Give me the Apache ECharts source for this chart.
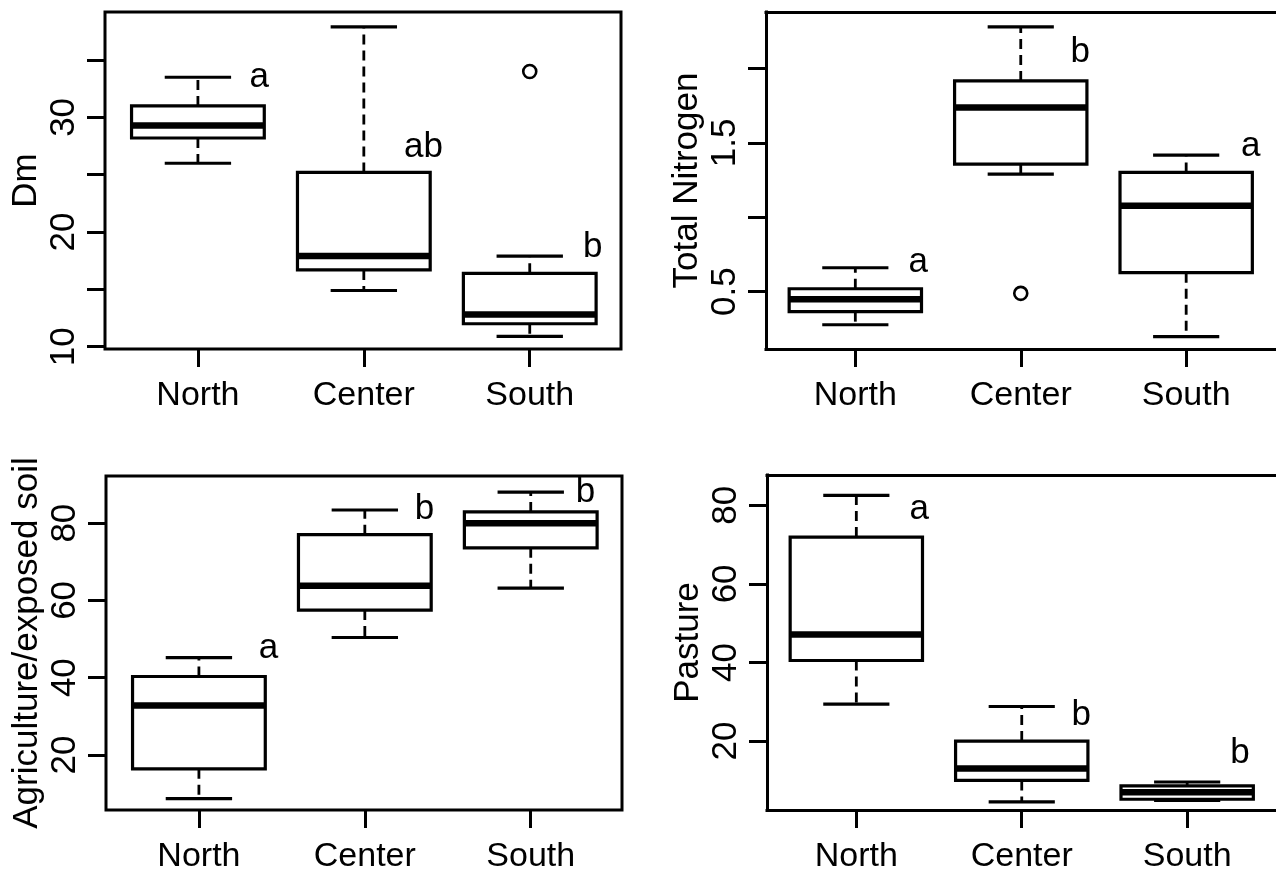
<!DOCTYPE html>
<html>
<head>
<meta charset="utf-8">
<script src="https://cdn.jsdelivr.net/npm/echarts@6/dist/echarts.min.js"></script>
<style>
html,body{margin:0;padding:0;background:#fff;overflow:hidden;}
#chart{width:1276px;height:874px;}
</style>
</head>
<body>
<div id="chart"></div>
<script>
// ---------- data ----------
const categories = ['North', 'Center', 'South'];

// [low whisker, Q1, median, Q3, high whisker] per region
const dmBoxes = [[26.0, 28.2, 29.3, 31.0, 33.5], [14.9, 16.7, 17.9, 25.2, 37.9], [10.9, 12.0, 12.8, 16.4, 17.9]];
const dmOutliers = [[3, 34.0]];
const dmLetters = ['a', 'ab', 'b'];
const dmLetterX = [1.37, 2.36, 3.38];
const dmLetterY = [33.5, 27.4, 18.7];
const dmTicks = [10, 15, 20, 25, 30, 35];
const dmTickLabels = [10, 20, 30];

const tnBoxes = [[0.278, 0.366, 0.449, 0.52, 0.661], [1.29, 1.358, 1.738, 1.917, 2.28], [0.198, 0.628, 1.078, 1.302, 1.418]];
const tnOutliers = [[2, 0.489]];
const tnLetters = ['a', 'b', 'a'];
const tnLetterX = [1.38, 2.36, 3.39];
const tnLetterY = [0.70, 2.11, 1.474];
const tnTicks = [0.5, 1.0, 1.5, 2.0];
const tnTickLabels = [0.5, 1.5];

const agBoxes = [[8.7, 16.4, 32.8, 40.3, 45.2], [50.4, 57.5, 63.8, 77.0, 83.4], [63.2, 73.6, 80.0, 82.9, 88.0]];
const agOutliers = [];
const agLetters = ['a', 'b', 'b'];
const agLetterX = [1.42, 2.36, 3.33];
const agLetterY = [47.7, 83.6, 87.9];
const agTicks = [20, 40, 60, 80];
const agTickLabels = [20, 40, 60, 80];

const paBoxes = [[29.4, 40.5, 47.1, 71.9, 82.5], [4.56, 10.0, 13.0, 20.0, 28.8], [4.9, 5.2, 7.0, 8.6, 9.6]];
const paOutliers = [];
const paLetters = ['a', 'b', 'b'];
const paLetterX = [1.38, 2.36, 3.32];
const paLetterY = [78.9, 26.5, 16.9];
const paTicks = [20, 40, 60, 80];
const paTickLabels = [20, 40, 60, 80];

const yTitles = ['Dm', 'Total Nitrogen', 'Agriculture/exposed soil', 'Pasture'];

// ---------- layout / style ----------
const FONT = "'Liberation Sans', Arial, Helvetica, sans-serif";
// right-hand panels are cut off at the right edge of the image, so they have no right border
const panels = [
  {boxes: dmBoxes, outliers: dmOutliers, letters: dmLetters, lx: dmLetterX, ly: dmLetterY, ticks: dmTicks, labels: dmTickLabels,
   grid: {left: 105, top: 12, width: 516, height: 337}, xr: [0.44, 3.55], yr: [9.8, 39.19], closed: true},
  {boxes: tnBoxes, outliers: tnOutliers, letters: tnLetters, lx: tnLetterX, ly: tnLetterY, ticks: tnTicks, labels: tnTickLabels,
   grid: {left: 766, top: 12, width: 510, height: 337}, xr: [0.46, 3.543], yr: [0.115, 2.38], closed: false},
  {boxes: agBoxes, outliers: agOutliers, letters: agLetters, lx: agLetterX, ly: agLetterY, ticks: agTicks, labels: agTickLabels,
   grid: {left: 106, top: 476, width: 516, height: 338}, xr: [0.44, 3.55], yr: [5.74, 92.2], closed: true},
  {boxes: paBoxes, outliers: paOutliers, letters: paLetters, lx: paLetterX, ly: paLetterY, ticks: paTicks, labels: paTickLabels,
   grid: {left: 767, top: 475, width: 509, height: 339}, xr: [0.46, 3.537], yr: [2.47, 87.7], closed: false}
];

function renderBox(params, api) {
  const x = api.value(0);
  const lo = api.value(1), q1 = api.value(2), md = api.value(3), q3 = api.value(4), hi = api.value(5);
  const bw = 0.4, sw = 0.2;
  const c = api.coord([x, md]);
  const pHi = api.coord([x, hi]), pLo = api.coord([x, lo]);
  const pQ3 = api.coord([x, q3]), pQ1 = api.coord([x, q1]);
  const l = api.coord([x - bw, md])[0], r = api.coord([x + bw, md])[0];
  const sl = api.coord([x - sw, md])[0], sr = api.coord([x + sw, md])[0];
  const ink = '#000';
  return {
    type: 'group',
    children: [
      {type: 'line', shape: {x1: c[0], y1: pQ3[1], x2: c[0], y2: pHi[1]}, style: {stroke: ink, lineWidth: 2.8, lineDash: [10, 6]}},
      {type: 'line', shape: {x1: c[0], y1: pQ1[1], x2: c[0], y2: pLo[1]}, style: {stroke: ink, lineWidth: 2.8, lineDash: [10, 6]}},
      {type: 'line', shape: {x1: sl, y1: pHi[1], x2: sr, y2: pHi[1]}, style: {stroke: ink, lineWidth: 3.2}},
      {type: 'line', shape: {x1: sl, y1: pLo[1], x2: sr, y2: pLo[1]}, style: {stroke: ink, lineWidth: 3.2}},
      {type: 'rect', shape: {x: l, y: pQ3[1], width: r - l, height: pQ1[1] - pQ3[1]}, style: {fill: '#fff', stroke: ink, lineWidth: 3.2}},
      {type: 'line', shape: {x1: l, y1: c[1], x2: r, y2: c[1]}, style: {stroke: ink, lineWidth: 6.5}}
    ]
  };
}

const option = {
  backgroundColor: '#fff',
  animation: false,
  grid: [], xAxis: [], yAxis: [], series: []
};

const frameLine = {show: true, onZero: false, lineStyle: {color: '#000', width: 3, cap: 'square'}};

panels.forEach((p, i) => {
  option.grid.push(Object.assign({show: p.closed, borderColor: '#000', borderWidth: 3, backgroundColor: 'transparent', containLabel: false}, p.grid));
  option.xAxis.push({
    gridIndex: i, type: 'value', min: p.xr[0], max: p.xr[1], position: 'bottom',
    splitLine: {show: false}, axisLine: p.closed ? {show: false} : frameLine,
    axisTick: {show: true, customValues: [1, 2, 3], length: 18, inside: false, lineStyle: {color: '#000', width: 3}},
    axisLabel: {show: true, customValues: [1, 2, 3], formatter: v => categories[Math.round(v) - 1] || '',
      fontSize: 34, color: '#000', fontFamily: FONT, margin: 30}
  });
  option.yAxis.push({
    gridIndex: i, type: 'value', min: p.yr[0], max: p.yr[1],
    name: yTitles[i], nameLocation: 'middle', nameRotate: 90, nameGap: 61,
    nameTextStyle: {fontSize: 35, color: '#000', fontFamily: FONT},
    splitLine: {show: false}, axisLine: p.closed ? {show: false} : frameLine,
    axisTick: {show: true, customValues: p.ticks, length: 18, inside: false, lineStyle: {color: '#000', width: 3}},
    axisLabel: {show: true, customValues: p.labels, rotate: 90, fontSize: 35, color: '#000', fontFamily: FONT, margin: 23}
  });
  const xIdx = option.xAxis.length - 1;
  if (!p.closed) {
    // top frame line of an open panel
    option.xAxis.push({
      gridIndex: i, type: 'value', min: p.xr[0], max: p.xr[1], position: 'top',
      splitLine: {show: false}, axisLine: frameLine, axisTick: {show: false}, axisLabel: {show: false}
    });
  }
  option.series.push({
    type: 'custom', xAxisIndex: xIdx, yAxisIndex: i, clip: false,
    data: p.boxes.map((b, k) => [k + 1].concat(b)),
    encode: {x: 0, y: [1, 2, 3, 4, 5]},
    renderItem: renderBox, z: 2
  });
  if (p.outliers.length) {
    option.series.push({
      type: 'scatter', xAxisIndex: xIdx, yAxisIndex: i, data: p.outliers,
      symbol: 'circle', symbolSize: 13,
      itemStyle: {color: '#fff', borderColor: '#000', borderWidth: 2.6, opacity: 1}, z: 3
    });
  }
  option.series.push({
    type: 'custom', xAxisIndex: xIdx, yAxisIndex: i, clip: false,
    data: p.lx.map((x, k) => [x, p.ly[k]]),
    encode: {x: 0, y: 1},
    renderItem: (params, api) => {
      const pt = api.coord([api.value(0), api.value(1)]);
      return {type: 'text', x: pt[0], y: pt[1],
        style: {text: p.letters[params.dataIndex], fontSize: 35, fontFamily: FONT, fill: '#000', align: 'center', verticalAlign: 'middle'}};
    }, z: 4
  });
});

const chart = echarts.init(document.getElementById('chart'), null, {renderer: 'canvas'});
chart.setOption(option);
</script>
</body>
</html>
